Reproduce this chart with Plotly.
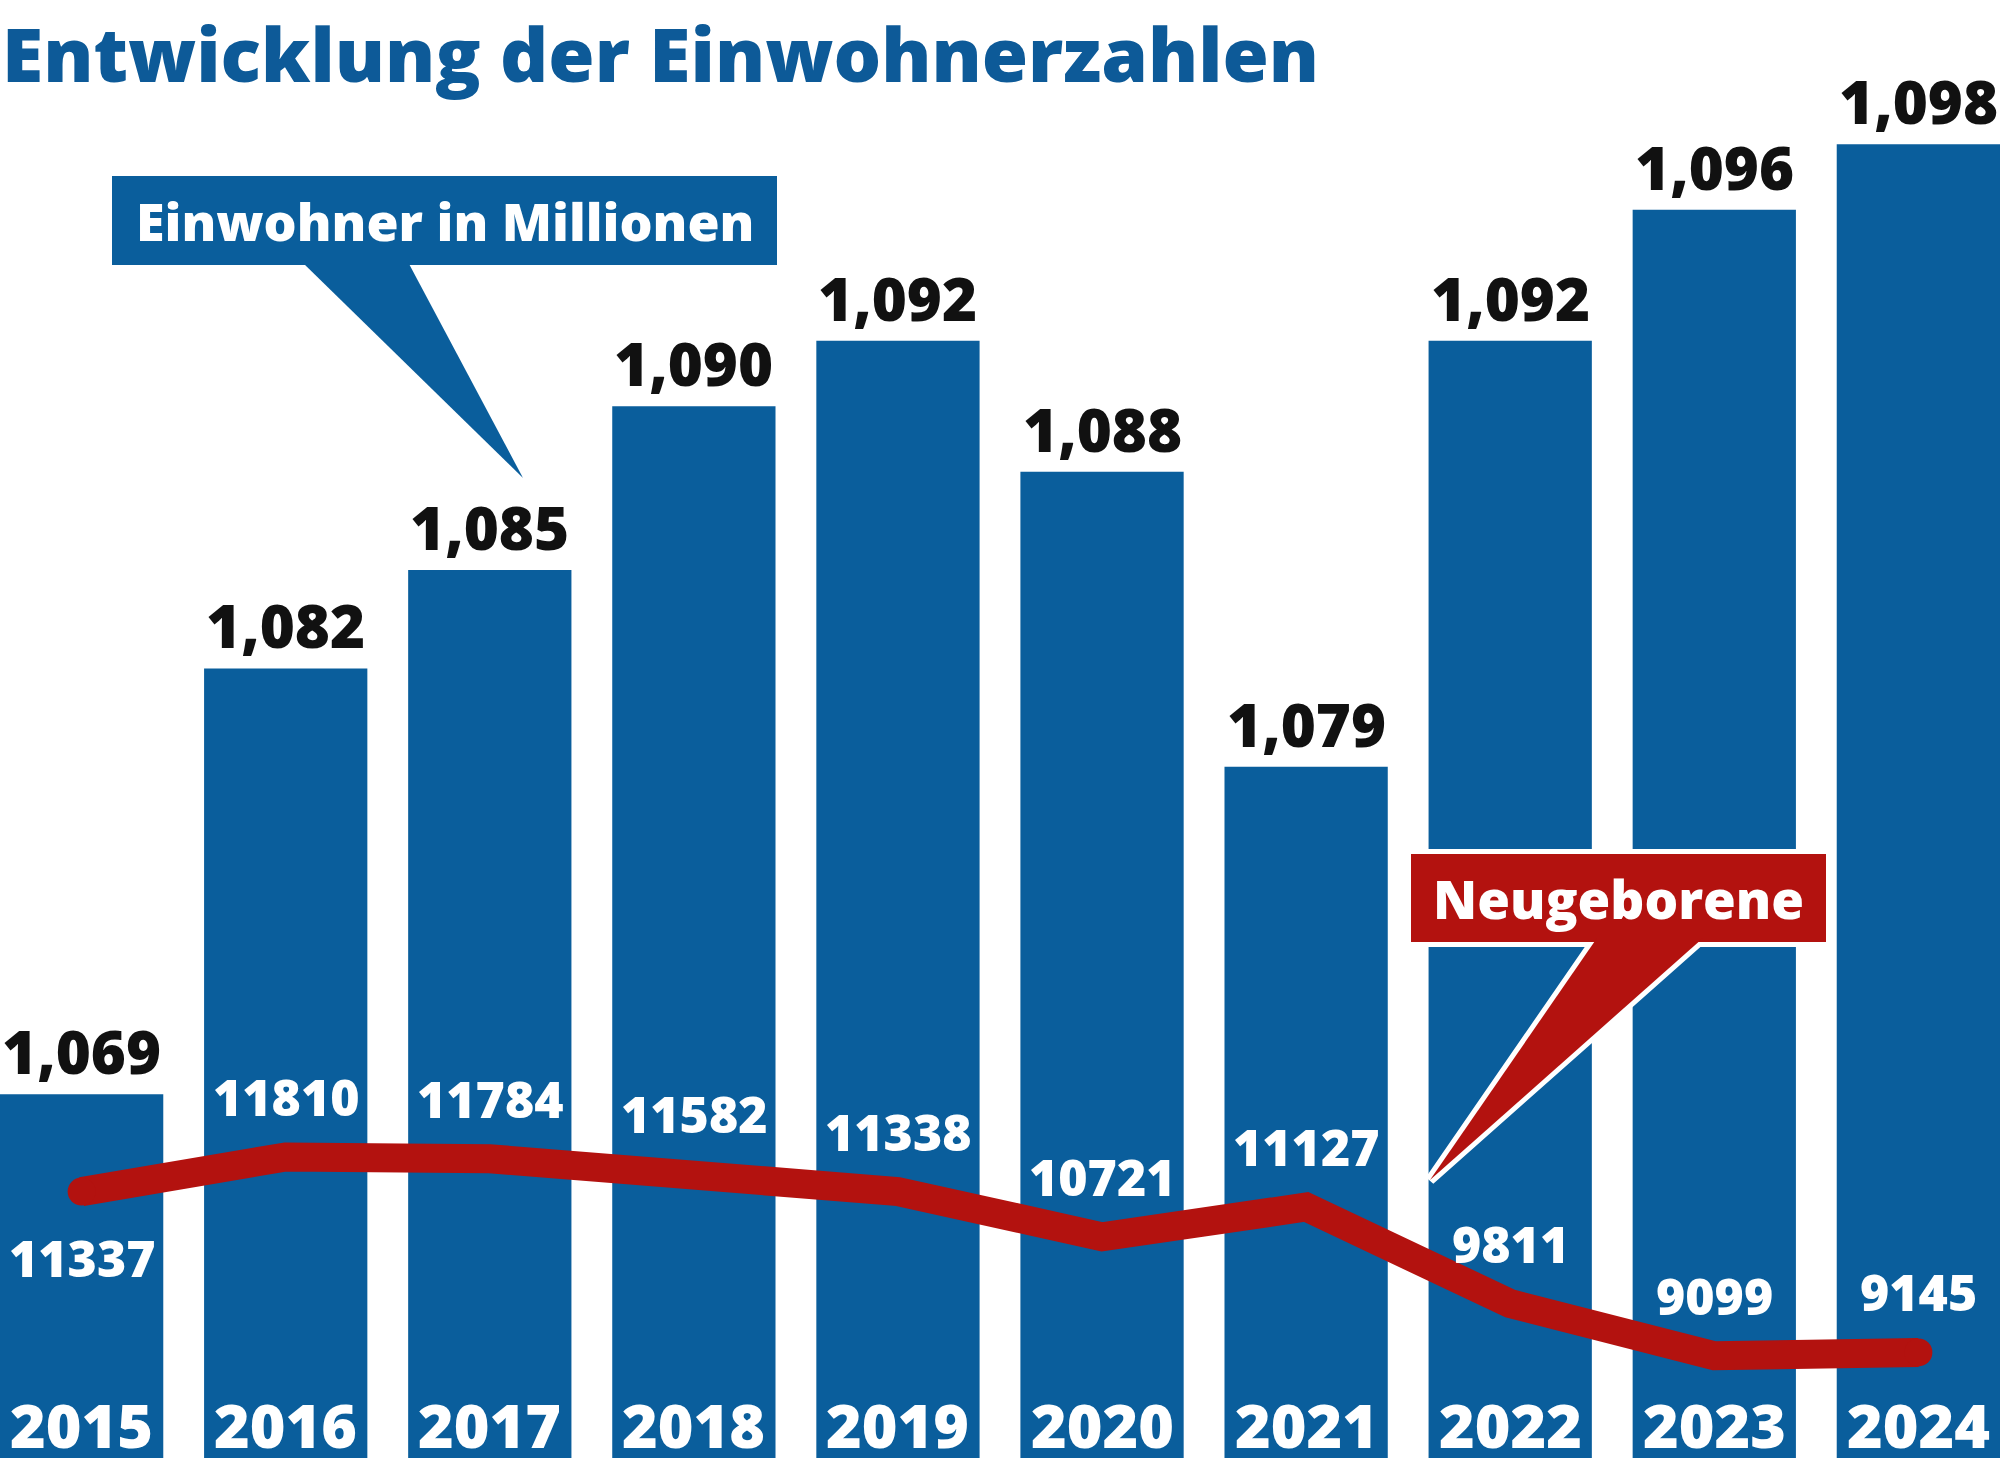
import plotly.graph_objects as go

years = ["2015", "2016", "2017", "2018", "2019", "2020", "2021", "2022", "2023", "2024"]
einwohner = [1.069, 1.082, 1.085, 1.090, 1.092, 1.088, 1.079, 1.092, 1.096, 1.098]
einwohner_labels = ["1,069", "1,082", "1,085", "1,090", "1,092", "1,088", "1,079", "1,092", "1,096", "1,098"]
neugeborene = [11337, 11810, 11784, 11582, 11338, 10721, 11127, 9811, 9099, 9145]

BLUE = "#0a5e9c"
RED = "#b3120f"
FONT = "Open Sans"

W, H = 2000, 1468
PLOT_H = 1458  # plot area height in px (margin bottom 10)

xs = list(range(len(years)))

fig = go.Figure()
fig.add_trace(go.Bar(x=xs, y=einwohner, marker=dict(color=BLUE, line=dict(width=0)),
                     hoverinfo="skip", yaxis="y"))
end_sizes = [28 if i in (0, len(xs) - 1) else 0 for i in range(len(xs))]
fig.add_trace(go.Scatter(x=xs, y=neugeborene, mode="lines+markers",
                         line=dict(color=RED, width=29, shape="linear"),
                         marker=dict(size=end_sizes, color=RED, opacity=1, line=dict(width=0)),
                         hoverinfo="skip", yaxis="y2"))

ann = []
# title
ann.append(dict(text="Entwicklung der Einwohnerzahlen", xref="paper", yref="paper",
                x=0.0, y=1.0, xanchor="left", yanchor="top", yshift=0, showarrow=False,
                font=dict(family=FONT, size=75, color="#0d5a98", weight=800)))
# population labels above bars
for i, (v, t) in enumerate(zip(einwohner, einwohner_labels)):
    ann.append(dict(text=t, x=i, y=v, xref="x", yref="y",
                    xanchor="center", yanchor="bottom", yshift=0, showarrow=False,
                    font=dict(family=FONT, size=60, color="#111111", weight=800)))
# birth labels
for i, n in enumerate(neugeborene):
    shift = -66 if i == 0 else 60
    ann.append(dict(text=str(n), x=i, y=n, xref="x", yref="y2",
                    xanchor="center", yanchor="middle", yshift=shift, showarrow=False,
                    font=dict(family=FONT, size=50, color="white", weight=800)))
# year labels
for i, yr in enumerate(years):
    ann.append(dict(text=yr, x=i, y=0.0, xref="x", yref="paper",
                    xanchor="center", yanchor="bottom", yshift=-10, showarrow=False,
                    font=dict(family=FONT, size=61, color="white", weight=800)))


def px(x):
    return x / W


def py(y):
    return (PLOT_H - y) / PLOT_H


def path(points):
    return "M " + " L ".join(f"{px(a):.5f},{py(b):.5f}" for a, b in points) + " Z"


shapes = []
# blue callout
blue_box = (112, 176, 777, 265)
blue_tri = [(302, 262), (408, 262), (523, 478)]
shapes.append(dict(type="rect", xref="paper", yref="paper", x0=px(blue_box[0]), x1=px(blue_box[2]),
                   y0=py(blue_box[3]), y1=py(blue_box[1]), fillcolor=BLUE, line=dict(width=0), layer="above"))
shapes.append(dict(type="path", xref="paper", yref="paper", path=path(blue_tri),
                   fillcolor=BLUE, line=dict(width=0), layer="above"))
ann.append(dict(text="Einwohner in Millionen", xref="paper", yref="paper",
                x=px((blue_box[0] + blue_box[2]) / 2), y=py((blue_box[1] + blue_box[3]) / 2),
                xanchor="center", yanchor="middle", showarrow=False,
                font=dict(family=FONT, size=52, color="white", weight=800)))

# red callout with white outline
red_box = (1411, 854, 1826, 942)
red_tri = [(1597, 938), (1703, 938), (1430, 1180)]
shapes.append(dict(type="rect", xref="paper", yref="paper", x0=px(red_box[0]), x1=px(red_box[2]),
                   y0=py(red_box[3]), y1=py(red_box[1]), fillcolor="white",
                   line=dict(width=10, color="white"), layer="above"))
shapes.append(dict(type="path", xref="paper", yref="paper", path=path(red_tri),
                   fillcolor="white", line=dict(width=10, color="white"), layer="above"))
shapes.append(dict(type="rect", xref="paper", yref="paper", x0=px(red_box[0]), x1=px(red_box[2]),
                   y0=py(red_box[3]), y1=py(red_box[1]), fillcolor=RED, line=dict(width=0), layer="above"))
shapes.append(dict(type="path", xref="paper", yref="paper", path=path(red_tri),
                   fillcolor=RED, line=dict(width=0), layer="above"))
ann.append(dict(text="Neugeborene", xref="paper", yref="paper",
                x=px((red_box[0] + red_box[2]) / 2), y=py((red_box[1] + red_box[3]) / 2),
                xanchor="center", yanchor="middle", showarrow=False,
                font=dict(family=FONT, size=53, color="white", weight=800)))

fig.update_layout(
    width=W, height=H,
    margin=dict(l=0, r=0, t=0, b=H - PLOT_H, pad=0),
    paper_bgcolor="white", plot_bgcolor="white",
    showlegend=False, bargap=0.2,
    xaxis=dict(range=[-0.4, 9.4], visible=False, fixedrange=True),
    yaxis=dict(range=[1.0579, 1.1024], visible=False, fixedrange=True),
    yaxis2=dict(range=[7707, 27574], overlaying="y", visible=False, fixedrange=True),
    annotations=ann, shapes=shapes,
)

fig.write_html("out.html", config={"displayModeBar": False},
               post_script="document.body.style.margin='0';document.body.style.overflow='hidden';")
